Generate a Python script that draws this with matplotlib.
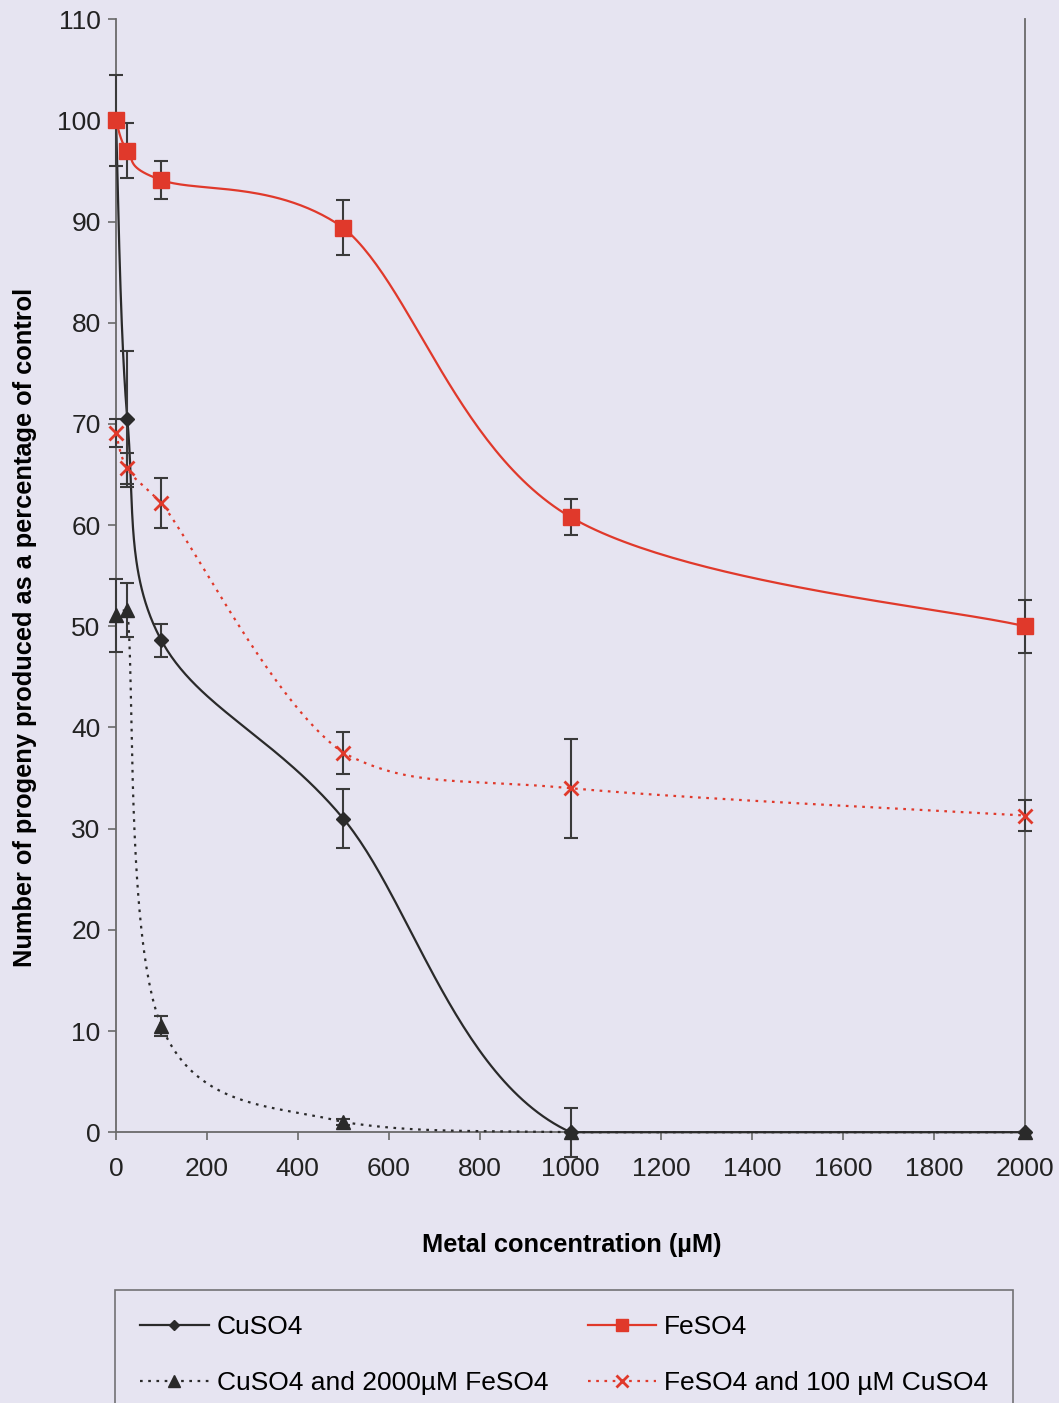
import numpy as np
import matplotlib
matplotlib.use("Agg")
import matplotlib.pyplot as plt
from matplotlib.lines import Line2D

plt.rcParams['font.family'] = ['Liberation Sans', 'DejaVu Sans']

# concentraciones (uM)
conc = [0, 25, 100, 500, 1000, 2000]

# CuSO4
cu = [100, 70.5, 48.6, 31.0, 0, 0]
cu_err = [4.5, 6.7, 1.6, 2.9, 2.4, 0]

# FeSO4
fe = [100, 97.0, 94.1, 89.4, 60.8, 50.0]
fe_err = [0, 2.7, 1.9, 2.7, 1.8, 2.6]

# CuSO4 y 2000uM FeSO4
cufe = [51.1, 51.6, 10.5, 1.0, 0, 0]
cufe_err = [3.6, 2.7, 1.0, 0.3, 0, 0]

# FeSO4 y 100uM CuSO4
fecu = [69.1, 65.6, 62.2, 37.5, 34.0, 31.3]
fecu_err = [1.4, 1.5, 2.5, 2.1, 4.9, 1.5]

bg = '#E6E4F1'
rojo = '#E0392B'
negro = '#2A2A2A'
ebar = '#3A3A3A'

fig = plt.figure(figsize=(10.59, 14.03), dpi=100, facecolor=bg)
ax = fig.add_axes([0.1095, 0.193, 0.8585, 0.7933], facecolor=bg)
ax.set_xlim(0, 2000)
ax.set_ylim(0, 110)


# suavizado tipo Excel (bezier) en coordenadas de pantalla, sin sobrepasar los puntos
def suave(xs, ys, n=60):
    p = ax.transData.transform(np.column_stack([xs, ys]))
    out = []
    for i in range(len(p) - 1):
        p0 = p[i - 1] if i > 0 else p[i]
        p1 = p[i]
        p2 = p[i + 1]
        p3 = p[i + 2] if i + 2 < len(p) else p[i + 1]
        c1 = p1 + (p2 - p0) / 6
        c2 = p2 - (p3 - p1) / 6
        lo, hi = min(p1[1], p2[1]), max(p1[1], p2[1])
        c1[1] = np.clip(c1[1], lo, hi)
        c2[1] = np.clip(c2[1], lo, hi)
        t = np.linspace(0, 1, n)[:, None]
        b = (1 - t) ** 3 * p1 + 3 * (1 - t) ** 2 * t * c1 + 3 * (1 - t) * t ** 2 * c2 + t ** 3 * p2
        out.append(b if i == 0 else b[1:])
    d = ax.transData.inverted().transform(np.vstack(out))
    return d[:, 0], d[:, 1]


series = [
    (cu, cu_err, negro, '-', 'D', 7, 'CuSO4'),
    (fe, fe_err, rojo, '-', 's', 11, 'FeSO4'),
    (cufe, cufe_err, negro, (0, (1.2, 2.5)), '^', 10, 'CuSO4 and 2000µM FeSO4'),
    (fecu, fecu_err, rojo, (0, (1.2, 2.5)), 'x', 10, 'FeSO4 and 100 µM CuSO4'),
]

handles = []
for ys, err, col, ls, mk, ms, lab in series:
    sx, sy = suave(conc, ys)
    ax.plot(sx, sy, color=col, ls=ls, lw=1.6, zorder=3, clip_on=False)
    ax.errorbar(conc, ys, yerr=err, fmt='none', ecolor=ebar, elinewidth=1.5,
                capsize=5, capthick=1.5, zorder=4, clip_on=False)
    ax.plot(conc, ys, ls='none', marker=mk, ms=ms, color=col,
            mew=2 if mk == 'x' else 1, zorder=5, clip_on=False)
    handles.append(Line2D([], [], color=col, ls=ls, lw=1.6, marker=mk,
                          ms=ms * 0.8, mew=2 if mk == 'x' else 1, label=lab))

ax.spines['top'].set_visible(False)
for s in ['left', 'bottom', 'right']:
    ax.spines[s].set_color('#6A6A6A')
    ax.spines[s].set_linewidth(1.3)

ax.set_xticks(np.arange(0, 2001, 200))
ax.set_yticks(np.arange(0, 111, 10))
ax.tick_params(axis='both', labelsize=19, colors='#6A6A6A', labelcolor='#222222',
               length=6, width=1.2, direction='out')
ax.tick_params(axis='x', pad=12)
ax.tick_params(axis='y', pad=5)

ax.set_xlabel('Metal concentration (µM)', fontsize=18.3, fontweight='bold')
ax.set_ylabel('Number of progeny produced as a percentage of control',
              fontsize=18.3, fontweight='bold')
ax.xaxis.set_label_coords(0.5017, -0.0907)
ax.yaxis.set_label_coords(-0.087, 0.4537)

# orden de la leyenda: por columnas
orden = [handles[0], handles[2], handles[1], handles[3]]
leg = fig.legend(handles=orden, loc='upper left', ncol=2,
                 bbox_to_anchor=(115 / 1059, 1 - 1290 / 1403),
                 borderaxespad=0, fontsize=19, frameon=True, fancybox=False,
                 edgecolor='#555555', facecolor=bg, handlelength=2.6,
                 handletextpad=0.3, labelspacing=1.2, borderpad=0.95,
                 columnspacing=1.5)
leg.get_frame().set_linewidth(1.2)

fig.savefig('out.png', dpi=100, facecolor=bg)
